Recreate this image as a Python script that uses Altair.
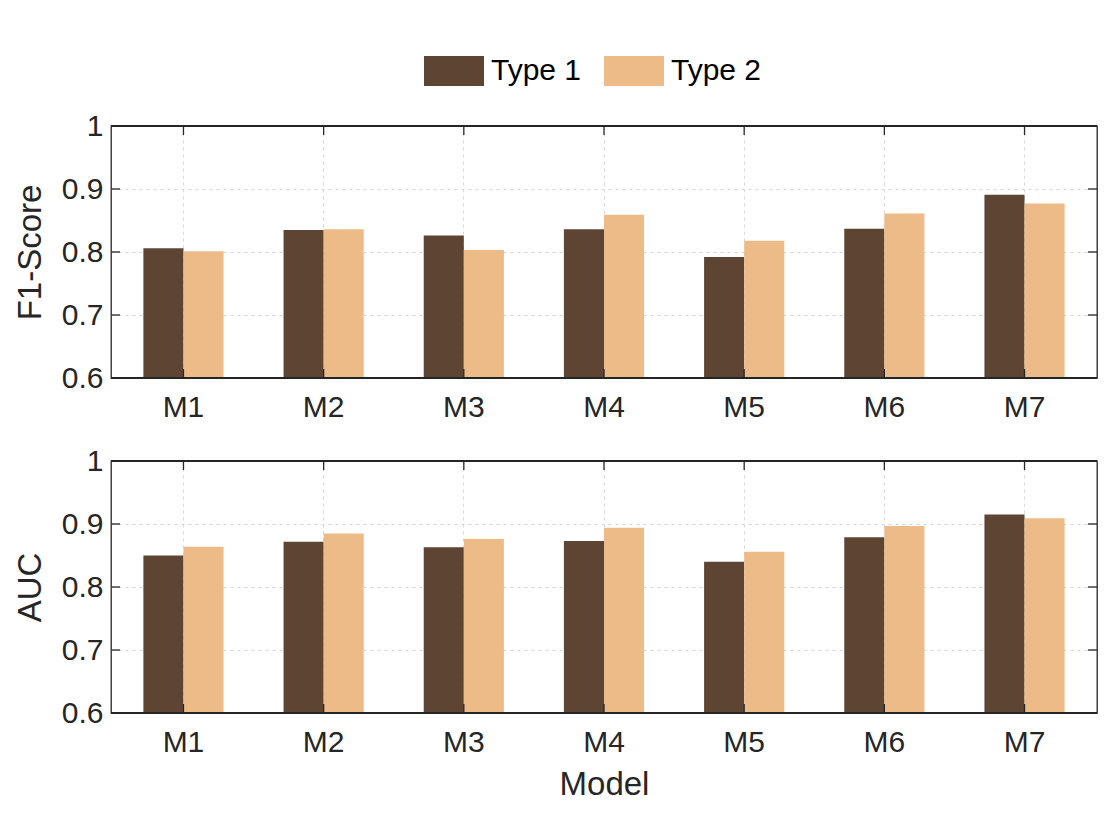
import altair as alt
import pandas as pd

models = ["M1", "M2", "M3", "M4", "M5", "M6", "M7"]
types = ["Type 1", "Type 2"]
f1_type1 = [0.806, 0.835, 0.826, 0.836, 0.792, 0.837, 0.891]
f1_type2 = [0.801, 0.836, 0.803, 0.859, 0.818, 0.861, 0.877]
auc_type1 = [0.850, 0.872, 0.863, 0.873, 0.840, 0.879, 0.915]
auc_type2 = [0.864, 0.885, 0.876, 0.894, 0.856, 0.897, 0.909]
y_ticks = [0.6, 0.7, 0.8, 0.9, 1.0]
y_base = 0.6
colors = ["#5E4533", "#EDBB87"]

W, H = 986, 252
FONT = "Liberation Sans"
TXT = "#262626"
GRID = "#d6d6d6"


def long(t1, t2):
    rows = []
    for m, a, b in zip(models, t1, t2):
        rows.append({"Model": m, "Type": "Type 1", "value": a})
        rows.append({"Model": m, "Type": "Type 2", "value": b})
    return pd.DataFrame(rows)


xscale = alt.Scale(domain=models, paddingInner=0.428, paddingOuter=0.231)
yscale = alt.Scale(domain=[0.6, 1.0], nice=False, zero=False)
cscale = alt.Scale(domain=types, range=colors)


def panel(df, ytitle, with_legend, with_xtitle):
    xaxis_kw = dict(labelAngle=0, ticks=False, domain=False, grid=True,
                    bandPosition=0.5, gridColor=GRID, gridDash=[3, 4], gridWidth=1,
                    labelFont=FONT, labelFontSize=30, labelColor=TXT, labelPadding=14)
    if with_xtitle:
        xaxis_kw.update(titleFont=FONT, titleFontSize=33, titleColor=TXT,
                        titleFontWeight="normal", titlePadding=11)
    xaxis = alt.Axis(**xaxis_kw)
    yaxis = alt.Axis(values=y_ticks, format="~g", ticks=False, domain=False,
                     grid=True, gridColor=GRID, gridDash=[3, 4], gridWidth=1,
                     labelFont=FONT, labelFontSize=30, labelColor=TXT, labelPadding=8,
                     titleFont=FONT, titleFontSize=33, titleColor=TXT,
                     titleFontWeight="normal", titlePadding=14)
    if with_legend:
        legend = alt.Legend(orient="none", legendX=313, legendY=-85, direction="horizontal",
                            title=None, symbolType="M-1,-0.5L1,-0.5L1,0.5L-1,0.5Z",
                            symbolSize=3600, symbolStrokeWidth=0, labelFont=FONT,
                            labelFontSize=30, labelColor="#000000", labelOffset=7,
                            columnPadding=22, padding=0)
        color = alt.Color("Type:N", scale=cscale, legend=legend)
    else:
        color = alt.Color("Type:N", scale=cscale, legend=None)

    xtitle = "Model" if with_xtitle else None

    bars = alt.Chart(df).mark_bar(clip=True).encode(
        x=alt.X("Model:N", scale=xscale, axis=xaxis, title=xtitle, sort=models),
        xOffset=alt.XOffset("Type:N", scale=alt.Scale(domain=types, paddingInner=0, paddingOuter=0)),
        y=alt.Y("value:Q", scale=yscale, axis=yaxis, title=ytitle),
        y2=alt.datum(y_base),
        color=color,
    )

    yt = pd.DataFrame({"t": y_ticks})
    xt = pd.DataFrame({"Model": models})
    rule = dict(color=TXT, strokeWidth=1.3)
    left_t = alt.Chart(yt).mark_rule(**rule).encode(
        y=alt.Y("t:Q", scale=yscale, axis=yaxis, title=ytitle), x=alt.value(0), x2=alt.value(9))
    right_t = alt.Chart(yt).mark_rule(**rule).encode(
        y=alt.Y("t:Q", scale=yscale, axis=yaxis, title=ytitle), x=alt.value(W - 9), x2=alt.value(W))
    top_t = alt.Chart(xt).mark_rule(**rule).encode(
        x=alt.X("Model:N", scale=xscale, axis=xaxis, title=xtitle, bandPosition=0.5, sort=models),
        y=alt.value(0), y2=alt.value(9))
    bot_t = alt.Chart(xt).mark_rule(**rule).encode(
        x=alt.X("Model:N", scale=xscale, axis=xaxis, title=xtitle, bandPosition=0.5, sort=models),
        y=alt.value(H - 9), y2=alt.value(H))
    bot_line = alt.Chart(xt).mark_rule(**rule).encode(
        x=alt.value(0), x2=alt.value(W), y=alt.value(H))
    top_line = alt.Chart(xt).mark_rule(**rule).encode(
        x=alt.value(0), x2=alt.value(W), y=alt.value(0))

    return alt.layer(bars, left_t, right_t, top_t, bot_t, bot_line, top_line).properties(width=W, height=H)


top = panel(long(f1_type1, f1_type2), "F1-Score", True, False)
bottom = panel(long(auc_type1, auc_type2), "AUC", False, True)

chart = alt.vconcat(top, bottom, spacing=22).resolve_legend(color="independent").configure_view(
    stroke=TXT, strokeWidth=1.3
).properties(
    padding={"left": 5, "top": 32, "right": 5, "bottom": 5},
    background="white",
)

chart.save("out.html", embed_options={"renderer": "svg", "actions": False})
